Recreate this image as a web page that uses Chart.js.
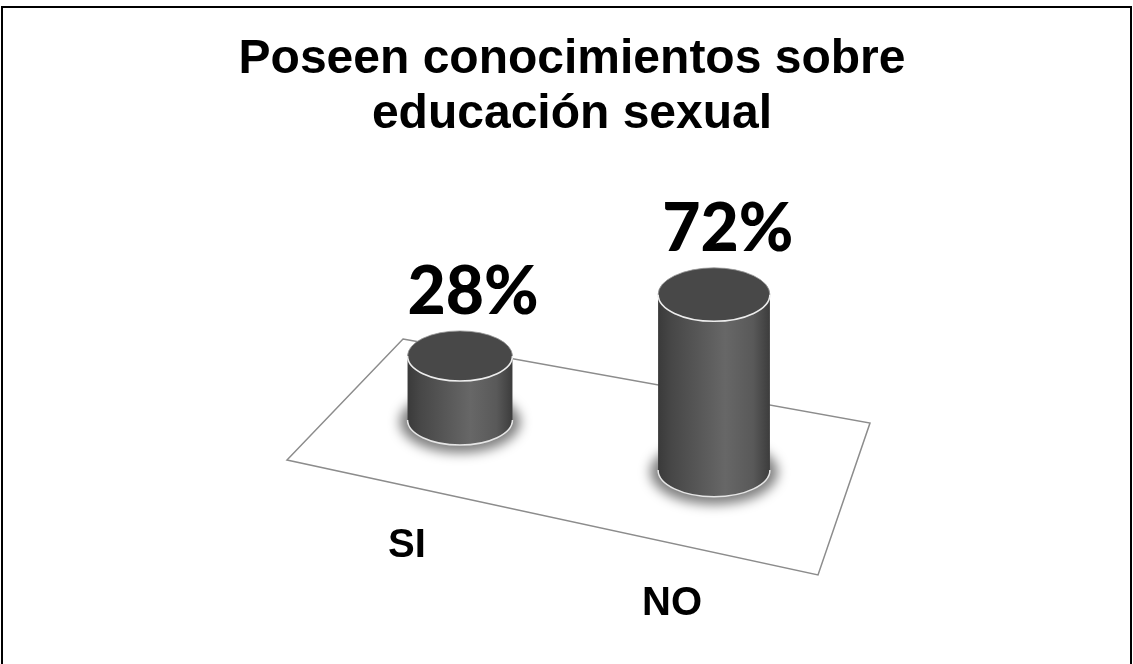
<!DOCTYPE html>
<html>
<head>
<meta charset="utf-8">
<script src="https://cdn.jsdelivr.net/npm/chart.js@4/dist/chart.umd.min.js"></script>
<style>
  html, body { margin: 0; background: #fff; }
  #wrap { width: 1133px; height: 664px; position: relative; }
</style>
</head>
<body>
<div id="wrap"><canvas id="grafico" width="1133" height="664"></canvas></div>
<script>
// Datos del gráfico
const categorias = ['SI', 'NO'];
const porcentajes = [28, 72];
const etiquetasValor = ['28%', '72%'];
const titulo = ['Poseen conocimientos sobre', 'educación sexual'];

// perspectiva sencilla: la barra de la derecha está un poco más cerca
function escala(x, cx) { return 1.033 + 0.00026 * (x - cx); }

function elipse(ctx, x, y, rx, ry) {
  ctx.beginPath();
  ctx.ellipse(x, y, rx, ry, 0, 0, Math.PI * 2);
}

const cilindros = {
  id: 'cilindros',
  beforeDatasetsDraw(chart) {
    const ctx = chart.ctx;
    const a = chart.chartArea;
    const cx = (a.left + a.right) / 2;
    const cy = a.bottom + 16.4;
    // plano del suelo
    const esquinas = [[-184, -106], [283, -22], [231, 130], [-300, 15]];
    ctx.save();
    ctx.beginPath();
    esquinas.forEach((p, i) => {
      if (i === 0) ctx.moveTo(cx + p[0], cy + p[1]);
      else ctx.lineTo(cx + p[0], cy + p[1]);
    });
    ctx.closePath();
    ctx.strokeStyle = '#8c8c8c';
    ctx.lineWidth = 1.5;
    ctx.stroke();
    ctx.restore();
  },
  afterDatasetsDraw(chart) {
    const ctx = chart.ctx;
    const a = chart.chartArea;
    const cx = (a.left + a.right) / 2;
    const cy = a.bottom + 16.4;
    const yScale = chart.scales.y;
    const meta = chart.getDatasetMeta(0);

    meta.data.forEach((bar, i) => {
      const s = escala(bar.x, cx);
      const rx = bar.width / 2 * s;
      const ry = rx * 0.478;
      const h = (yScale.getPixelForValue(0) - bar.y) * s;
      const x = bar.x;
      const yb = cy + 0.197 * (x - cx);   // centro de la base
      const yt = yb - h;                   // centro de la tapa

      ctx.save();
      // sombra
      ctx.filter = 'blur(6px)';
      elipse(ctx, x, yb + 2, rx + 8, ry + 6);
      ctx.fillStyle = 'rgba(0,0,0,0.5)';
      ctx.fill();
      ctx.filter = 'none';

      // cuerpo
      const g = ctx.createLinearGradient(x - rx, 0, x + rx, 0);
      g.addColorStop(0, '#3a3a3a');
      g.addColorStop(0.12, '#474747');
      g.addColorStop(0.6, '#676767');
      g.addColorStop(0.85, '#595959');
      g.addColorStop(1, '#3c3c3c');
      ctx.beginPath();
      ctx.moveTo(x - rx, yt);
      ctx.lineTo(x - rx, yb);
      ctx.ellipse(x, yb, rx, ry, 0, Math.PI, 0, true);
      ctx.lineTo(x + rx, yt);
      ctx.closePath();
      ctx.fillStyle = g;
      ctx.fill();

      // borde claro de la base
      ctx.beginPath();
      ctx.ellipse(x, yb, rx, ry, 0, Math.PI, 0, true);
      ctx.strokeStyle = '#e6e6e6';
      ctx.lineWidth = 1.5;
      ctx.stroke();

      // tapa
      elipse(ctx, x, yt, rx, ry);
      ctx.fillStyle = '#484848';
      ctx.fill();
      ctx.beginPath();
      ctx.ellipse(x, yt, rx, ry, 0, Math.PI, 0, true);
      ctx.strokeStyle = '#ededed';
      ctx.lineWidth = 1.6;
      ctx.stroke();
      ctx.beginPath();
      ctx.ellipse(x, yt, rx, ry, 0, Math.PI, 0, false);
      ctx.strokeStyle = '#9a9a9a';
      ctx.lineWidth = 0.8;
      ctx.stroke();

      // porcentaje
      ctx.fillStyle = '#000';
      ctx.textAlign = 'center';
      ctx.textBaseline = 'alphabetic';
      ctx.font = '900 66px Lato, "Open Sans", sans-serif';
      ctx.fillText(etiquetasValor[i], x + 13 * s, yt - ry - 17);

      // categoría
      ctx.font = 'bold 40px "Liberation Sans", Arial, sans-serif';
      const lx = x - 47.5 + 0.0433 * (x - cx);
      const ly = 586 + 0.228 * (x - cx);
      ctx.fillText(categorias[i], lx, ly);
      ctx.restore();
    });
  },
  afterDraw(chart) {
    const ctx = chart.ctx;
    ctx.save();
    ctx.fillStyle = '#000';
    ctx.textAlign = 'center';
    ctx.font = 'bold 48px "Liberation Sans", Arial, sans-serif';
    ctx.fillText(titulo[0], 572, 73);
    ctx.fillText(titulo[1], 572, 128);
    // marco
    ctx.strokeStyle = '#000';
    ctx.lineWidth = 2;
    ctx.strokeRect(2, 7, 1129, 700);
    ctx.restore();
  }
};

const ctx = document.getElementById('grafico').getContext('2d');
const grafico = new Chart(ctx, {
  type: 'bar',
  data: {
    labels: categorias,
    datasets: [{
      label: 'Poseen conocimientos sobre educación sexual',
      data: porcentajes,
      backgroundColor: 'rgba(0,0,0,0)',
      borderWidth: 0,
      categoryPercentage: 1,
      barPercentage: 0.413
    }]
  },
  options: {
    responsive: false,
    animation: false,
    layout: { padding: { left: 333, right: 292, top: 200, bottom: 235.4 } },
    plugins: {
      legend: { display: false },
      title: { display: false },
      tooltip: { enabled: false }
    },
    scales: {
      x: { display: false, offset: true },
      y: { display: false, min: 0, max: 100 }
    }
  },
  plugins: [cilindros]
});
</script>
</body>
</html>
